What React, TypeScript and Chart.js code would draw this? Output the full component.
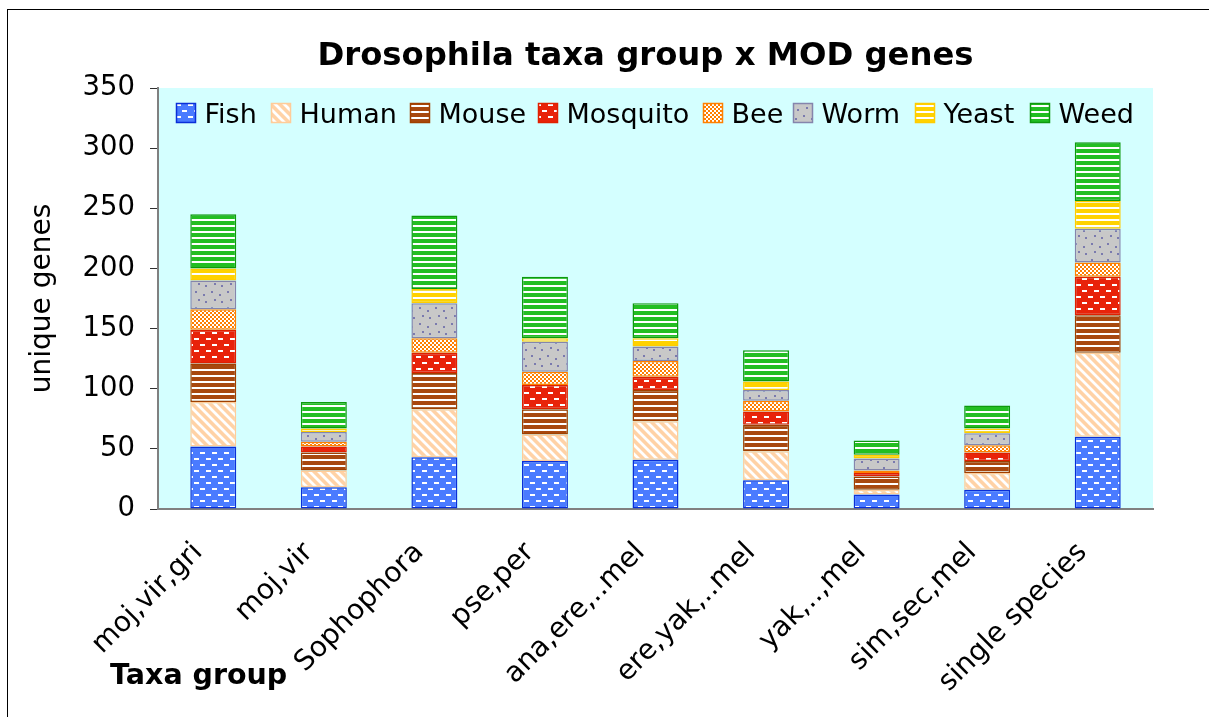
import React, { useEffect, useRef } from "react";
import { Chart, registerables } from "chart.js";
Chart.register(...registerables);

const categories = [
  "moj,vir,gri",
  "moj,vir",
  "Sophophora",
  "pse,per",
  "ana,ere,..mel",
  "ere,yak,..mel",
  "yak,..,mel",
  "sim,sec,mel",
  "single species",
];
const fish = [52, 18, 43, 40, 41, 24, 12, 16, 60];
const human = [37, 14, 40, 22, 32, 24, 4, 14, 70];
const mouse = [32, 15, 30, 21, 26, 22, 11, 10, 31];
const mosquito = [28, 5, 17, 20, 11, 11, 3, 7, 32];
const bee = [17, 4, 12, 11, 13, 9, 2, 6, 12];
const worm = [24, 8, 29, 25, 12, 9, 10, 10, 28];
const yeast = [10, 3, 12, 3, 7, 7, 3, 4, 23];
const weed = [45, 22, 61, 51, 29, 26, 12, 19, 49];
const seriesNames = ["Fish", "Human", "Mouse", "Mosquito", "Bee", "Worm", "Yeast", "Weed"];
const yMax = 350;
const yStep = 50;

const TITLE = "Drosophila taxa group x MOD genes";
const Y_TITLE = "unique genes";
const X_TITLE = "Taxa group";
const FONT = "'DejaVu Sans', Verdana, sans-serif";

type Kind = "dash" | "diag" | "hline" | "check" | "dots";

function makePattern(kind: Kind, bg: string, fg: string): CanvasPattern | string {
  const c = document.createElement("canvas");
  let w = 12, h = 12;
  if (kind === "diag") { w = 9; h = 9; }
  if (kind === "hline") { w = 6; h = 6; }
  if (kind === "check") { w = 4; h = 4; }
  if (kind === "dots") { w = 16; h = 16; }
  c.width = w; c.height = h;
  const x = c.getContext("2d")!;
  x.fillStyle = bg;
  x.fillRect(0, 0, w, h);
  x.fillStyle = fg;
  x.strokeStyle = fg;
  if (kind === "dash") {
    x.fillRect(2, 2, 5, 2);
    x.fillRect(8, 8, 4, 2);
    x.fillRect(0, 8, 1, 2);
  } else if (kind === "diag") {
    x.lineWidth = 2.8;
    x.beginPath();
    x.moveTo(-3, -3); x.lineTo(w + 3, h + 3);
    x.moveTo(-3, h - 3); x.lineTo(3, h + 3);
    x.moveTo(w - 3, -3); x.lineTo(w + 3, 3);
    x.stroke();
  } else if (kind === "hline") {
    x.fillRect(0, 3, w, 2);
  } else if (kind === "check") {
    x.fillRect(0, 0, 2, 2);
    x.fillRect(2, 2, 2, 2);
  } else if (kind === "dots") {
    x.fillRect(3, 3, 2, 2);
    x.fillRect(11, 6, 2, 2);
    x.fillRect(6, 11, 2, 2);
    x.fillRect(13, 13, 2, 2);
  }
  const p = x.createPattern(c, "repeat");
  return p || bg;
}

// legend box left edges (layout)
const legendX = [176.5, 271.5, 410.5, 538.5, 703.5, 793.5, 915.5, 1030.5];

export default function App() {
  const ref = useRef<HTMLCanvasElement | null>(null);

  useEffect(() => {
    const canvas = ref.current;
    if (!canvas) return;
    document.body.style.margin = "0";

    const styles = [
      { bg: makePattern("dash", "#4A7BFF", "#FFFFFF"), border: "#0A2FD8" },
      { bg: makePattern("diag", "#FFD2A6", "#FFFFFF"), border: "#FFCC99" },
      { bg: makePattern("hline", "#A8480E", "#FFFFFF"), border: "#A04000" },
      { bg: makePattern("dash", "#E8230A", "#FFFFFF"), border: "#E02000" },
      { bg: makePattern("check", "#FF7F00", "#FFFFFF"), border: "#FF8000" },
      { bg: makePattern("dots", "#C8C8C8", "#7A7AAE"), border: "#8585AC" },
      { bg: makePattern("hline", "#FFD200", "#FFFFFF"), border: "#FFCC00" },
      { bg: makePattern("hline", "#22BE22", "#FFFFFF"), border: "#0E990E" },
    ];
    const values = [fish, human, mouse, mosquito, bee, worm, yeast, weed];

    const datasets = values.map((v, i) => ({
      label: seriesNames[i],
      data: v,
      backgroundColor: styles[i].bg as any,
      borderColor: styles[i].border,
      borderWidth: 1.5,
      borderSkipped: false as any,
      barPercentage: 0.416,
      categoryPercentage: 1,
    }));

    const decor = {
      id: "decor",
      beforeDraw(chart: any) {
        const { ctx, chartArea: a } = chart;
        ctx.save();
        ctx.fillStyle = "#FFFFFF";
        ctx.fillRect(0, 0, chart.width, chart.height);
        ctx.fillStyle = "#D4FFFF";
        ctx.fillRect(a.left, a.top, a.right - a.left, a.bottom - a.top);
        ctx.strokeStyle = "#000000";
        ctx.lineWidth = 1;
        ctx.strokeRect(7.5, 9.5, 1400, 900);
        ctx.restore();
      },
      afterDraw(chart: any) {
        const { ctx, chartArea: a } = chart;
        ctx.save();
        ctx.fillStyle = "#000000";
        // title
        ctx.font = `bold 32.3px ${FONT}`;
        ctx.textAlign = "center";
        ctx.textBaseline = "alphabetic";
        ctx.fillText(TITLE, 645.5, 65);
        // x title
        ctx.font = `bold 28.5px ${FONT}`;
        ctx.textAlign = "left";
        ctx.fillText(X_TITLE, 110, 684);
        // y title
        ctx.save();
        ctx.translate(43, (a.top + a.bottom) / 2);
        ctx.rotate(-Math.PI / 2);
        ctx.font = `28px ${FONT}`;
        ctx.textAlign = "center";
        ctx.textBaseline = "middle";
        ctx.fillText(Y_TITLE, 0, 0);
        ctx.restore();
        // x category labels
        const xs = chart.scales.x;
        ctx.font = `28px ${FONT}`;
        ctx.textAlign = "right";
        ctx.textBaseline = "middle";
        categories.forEach((lab, i) => {
          const cx = xs.getPixelForValue(i);
          ctx.save();
          ctx.translate(cx - 15, a.bottom + 39);
          ctx.rotate(-Math.PI / 4);
          ctx.fillText(lab, 0, 0);
          ctx.restore();
        });
        // legend
        ctx.font = `27px ${FONT}`;
        ctx.textAlign = "left";
        ctx.textBaseline = "alphabetic";
        const boxTop = 103.5;
        chart.data.datasets.forEach((ds: any, i: number) => {
          const x = legendX[i];
          ctx.fillStyle = ds.backgroundColor;
          ctx.fillRect(x, boxTop, 19, 19);
          ctx.strokeStyle = ds.borderColor;
          ctx.lineWidth = 1.5;
          ctx.strokeRect(x, boxTop, 19, 19);
          ctx.fillStyle = "#000000";
          ctx.fillText(ds.label, x + 28, 123);
        });
        ctx.restore();
      },
    };

    const chart = new Chart(canvas, {
      type: "bar",
      data: { labels: categories, datasets },
      options: {
        animation: false,
        responsive: false,
        maintainAspectRatio: false,
        layout: { padding: { top: 88, right: 56, left: 0, bottom: 0 } },
        plugins: {
          legend: { display: false },
          title: { display: false },
          tooltip: { enabled: false },
        },
        scales: {
          x: {
            stacked: true,
            grid: { display: true, drawOnChartArea: false, drawTicks: false },
            border: { display: true, color: "#808080", width: 2 },
            ticks: { display: false },
            afterFit: (s: any) => { s.height = 717 - 509; },
          },
          y: {
            stacked: true,
            min: 0,
            max: yMax,
            grid: { display: true, drawOnChartArea: false, drawTicks: true, tickLength: 8, color: "#303030" },
            border: { display: true, color: "#808080", width: 2 },
            ticks: {
              stepSize: yStep,
              color: "#000000",
              font: { family: FONT, size: 27.5 },
              padding: 15,
            },
            afterFit: (s: any) => { s.width = 158; },
          },
        },
      },
      plugins: [decor],
    });

    return () => chart.destroy();
  }, []);

  return (
    <div style={{ position: "fixed", left: 0, top: 0, width: 1209, height: 717 }}>
      <canvas ref={ref} width={1209} height={717} />
    </div>
  );
}
